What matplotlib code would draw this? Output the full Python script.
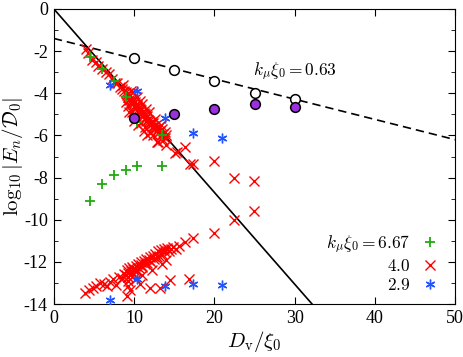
import numpy as np
import matplotlib
matplotlib.use("Agg")
import matplotlib.pyplot as plt

plt.rcParams['mathtext.fontset'] = 'cm'
plt.rcParams['font.family'] = ['Liberation Serif', 'DejaVu Serif']
plt.rcParams['axes.unicode_minus'] = False

# fitted lines: log10|E| = slope * D + intercept
solid_slope, solid_icpt = -0.435, 0.0
dash_slope, dash_icpt = -0.096, -1.40

# k xi = 0.63 : open and filled circles
circ_x = [10, 15, 20, 25, 30]
circ_open_y = [-2.34, -2.89, -3.44, -3.97, -4.28]
circ_fill_y = [-5.15, -4.97, -4.74, -4.50, -4.63]

# k xi = 6.67 (green +)
g_x = [4.45, 5.95, 7.48, 8.94, 10.4, 13.5, 7.48, 8.94, 10.4, 13.5, 5.95, 4.45]
g_y = [-2.29, -2.86, -3.41, -4.2, -5.37, -6.0, -7.87, -7.66, -7.44, -7.44, -8.29, -9.13]

# k xi = 4.0 (red x)
r_x = [4.0, 4.3, 4.8, 5.2, 5.5, 6.0, 6.5, 6.9, 7.3, 7.6, 7.9, 8.2, 8.5, 8.8,
       9.0, 9.1, 9.2, 9.3, 9.4, 9.5, 9.6, 9.7, 9.8, 9.9, 10.0, 10.1, 10.2, 10.3,
       10.4, 10.5, 10.6, 10.7, 10.8, 10.9, 11.0, 11.1, 11.2, 11.3, 11.4, 11.5,
       11.6, 11.7, 11.9, 12.0, 12.1, 12.2, 12.3, 12.5, 12.6, 12.7, 12.9, 13.0,
       13.1, 13.2, 13.4, 13.5, 13.6, 13.8, 13.9, 14.0,
       9.3, 9.8, 10.2, 10.9, 11.4, 12.0, 12.4, 13.0, 13.6, 9.6, 10.4, 11.0, 11.8,
       12.6, 13.3, 9.0, 9.4, 10.0, 10.5, 11.2, 11.6, 12.8, 8.6, 9.9, 10.7, 11.5,
       14.0, 15.1, 15.4, 16.3, 17.0, 17.4, 19.95, 22.4, 24.9, 24.9, 22.4,
       3.9, 4.4, 4.9, 5.3, 5.7, 6.2, 6.6, 7.0, 7.4, 7.7, 8.1, 8.5, 8.8, 9.0,
       9.1, 9.2, 9.3, 9.4, 9.5, 9.6, 9.7, 9.8, 9.9, 10.0, 10.2, 10.3, 10.5, 10.6,
       10.8, 10.9, 11.0, 11.2, 11.3, 11.5, 11.6, 11.8, 12.0, 12.1, 12.3, 12.5,
       12.6, 12.8, 13.0, 13.1, 13.3, 13.5, 13.7, 13.9, 14.1, 14.3, 14.6, 14.9,
       15.2, 15.6, 16.3, 17.4, 19.95,
       9.1, 9.5, 9.3, 10.7, 12.0, 13.2, 14.5, 16.9, 9.2, 10.2, 11.0, 12.2, 13.5, 14.0]
r_y = [-1.9, -2.1, -2.4, -2.5, -2.7, -2.85, -3.0, -3.1, -3.3, -3.5, -3.5, -3.7, -3.8, -3.9,
       -3.95, -4.1, -4.0, -4.2, -4.3, -4.1, -4.4, -4.25, -4.5, -4.3, -4.6, -4.4, -4.7, -4.5,
       -4.6, -4.9, -4.7, -4.75, -5.0, -4.8, -4.9, -5.1, -4.95, -5.2, -5.0, -5.3,
       -5.1, -5.25, -5.3, -5.5, -5.35, -5.6, -5.4, -5.55, -5.7, -5.5, -5.75, -5.9,
       -5.6, -5.8, -6.0, -5.7, -5.95, -6.1, -5.85, -6.0,
       -4.6, -4.9, -5.1, -5.4, -5.6, -5.9, -6.0, -6.3, -6.2, -3.9, -4.2, -4.5, -4.9,
       -5.2, -5.5, -4.4, -4.9, -5.3, -5.5, -5.8, -6.0, -6.3, -3.6, -3.95, -4.35, -4.75,
       -6.45, -6.84, -6.8, -6.55, -7.36, -7.36, -7.23, -8.0, -8.18, -9.57, -10.0,
       -13.45, -13.35, -13.25, -13.15, -13.0, -13.05, -13.15, -12.95, -12.8, -13.1, -12.7, -12.75, -12.55, -12.6,
       -12.4, -12.7, -12.5, -12.3, -12.6, -12.45, -12.25, -12.5, -12.35, -12.4, -12.2, -12.45, -12.1, -12.3,
       -12.15, -12.0, -12.25, -11.95, -12.1, -11.85, -12.05, -11.9, -11.75, -12.0, -11.7, -11.85,
       -11.6, -11.75, -11.5, -11.7, -11.45, -11.6, -11.4, -11.55, -11.35, -11.5, -11.4, -11.3,
       -11.4, -11.25, -11.05, -10.85, -10.63,
       -13.6, -13.35, -13.15, -13.05, -13.25, -13.25, -12.85, -12.8, -12.9, -12.8, -12.6, -12.4, -12.1, -11.9]

# k xi = 2.9 (blue asterisk)
b_x = [6.94, 10.4, 13.9, 17.4, 20.9, 6.94, 10.4, 13.9, 17.4, 20.9]
b_y = [-3.6, -3.87, -5.17, -5.86, -6.1, -13.8, -12.8, -13.13, -13.03, -13.08]

fig = plt.figure(figsize=(4.64, 3.57), dpi=100)
ax = fig.add_axes([0.116, 0.148, 0.865, 0.827])

xx = np.array([0, 50])
ax.plot(xx, solid_slope * xx + solid_icpt, color='black', lw=1.2, zorder=1)
ax.plot(xx, dash_slope * xx + dash_icpt, color='black', lw=1.2, ls=(0, (5, 3)), zorder=1)

ax.plot(g_x, g_y, ls='none', marker='+', ms=6.5, mew=1.3, color='#22aa11', label=r'$k_\mu\xi_0 = 6.67$', zorder=3)
ax.plot(r_x, r_y, ls='none', marker='x', ms=6.5, mew=1.0, color='#ff0000', label=r'$4.0$', zorder=2)
ax.plot(b_x, b_y, ls='none', marker=(6, 2, 0), ms=7, mew=1.0, color='#2255ff', label=r'$2.9$', zorder=3)

ax.plot(circ_x, circ_open_y, ls='none', marker='o', ms=7, mfc='white', mec='black', mew=1.1, zorder=4)
ax.plot(circ_x, circ_fill_y, ls='none', marker='o', ms=7, mfc='#9b30e0', mec='black', mew=1.1, zorder=4)

ax.text(24.8, -3.15, r'$k_\mu\xi_0 = 0.63$', fontsize=12.5)

ax.set_xlim(0, 50)
ax.set_ylim(-14, 0)
ax.set_xticks(np.arange(0, 51, 10))
ax.set_yticks(np.arange(-14, 1, 2))
ax.set_yticks(np.arange(-13, 0, 2), minor=True)
ax.tick_params(which='both', direction='in', top=True, right=True, labelsize=13, pad=4.3)
ax.tick_params(which='major', length=5)
ax.tick_params(which='minor', length=3)

ax.set_xlabel(r'$D_\mathrm{v}/\xi_0$', fontsize=15, labelpad=1)
ax.set_ylabel(r'$\log_{10}|E_n/\mathcal{D}_0|$', fontsize=15)
ax.yaxis.set_label_coords(-0.0715, 0.5)

leg = ax.legend(loc='lower right', frameon=False, markerfirst=False, fontsize=12.5,
                handlelength=1.0, handletextpad=0.6, labelspacing=0.2,
                borderaxespad=0, bbox_to_anchor=(0.975, 0.01))
for t in leg.get_texts():
    t.set_ha('right')
leg._legend_box.align = 'right'

fig.savefig('out.png', dpi=100)
